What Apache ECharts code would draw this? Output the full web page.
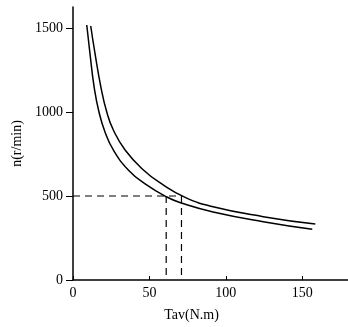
<!DOCTYPE html>
<html><head><meta charset="utf-8">
<script src="https://cdn.jsdelivr.net/npm/echarts@6/dist/echarts.min.js"></script>
<style>html,body{margin:0;padding:0;background:#fff}#c{width:348px;height:327px}</style>
</head><body><div id="c"></div>
<script>
// Inner (lower) curve: [Tav, n]
const innerCurve = [[9.0,1518],[11.1,1349],[13.8,1151],[17.0,1000],[21.0,880],[26.4,774],[36.2,655],[47.2,572],[61.4,494],[72,455],[91.7,405],[124.5,347],[156.6,302]];
// Outer (upper) curve
const outerCurve = [[11.6,1512],[14.4,1349],[18.2,1151],[22.1,1000],[26.4,893],[34.1,774],[46.1,655],[58.1,572],[73.4,492],[91.7,436],[124.5,377],[158.6,333]];
// Dashed guide lines
const guideH = [[0,500],[71,500]];
const guideV1 = [[61,500],[61,0]];
const guideV2 = [[71,500],[71,0]];
const xTicks = [0,50,100,150];
const yTicks = [0,500,1000,1500];

const font = 'Liberation Serif';
const chart = echarts.init(document.getElementById('c'));
const lineStyle = {color:'#000', width:1.5};
const dashStyle = {color:'#000', width:1.2, type:[7,5]};
chart.setOption({
  animation:false,
  grid:{left:73, right:0, top:7, bottom:47},
  xAxis:{type:'value', min:0, max:180, interval:50,
    name:'Tav(N.m)', nameLocation:'middle', nameGap:28,
    nameTextStyle:{color:'#000', fontFamily:font, fontSize:14, padding:[0,38,0,0]},
    axisLine:{lineStyle:{color:'#000', width:1.5}},
    axisTick:{inside:true, length:4, customValues:xTicks, lineStyle:{color:'#000'}},
    axisLabel:{color:'#000', fontFamily:font, fontSize:14, margin:6, customValues:xTicks, formatter:v=>String(v)},
    splitLine:{show:false}},
  yAxis:{type:'value', min:0, max:1625, interval:500,
    name:'n(r/min)', nameLocation:'middle', nameGap:44, nameRotate:90,
    nameTextStyle:{color:'#000', fontFamily:font, fontSize:14},
    axisLine:{show:true, lineStyle:{color:'#000', width:1.5}},
    axisTick:{show:true, length:7, customValues:yTicks, lineStyle:{color:'#000'}},
    axisLabel:{color:'#000', fontFamily:font, fontSize:14, margin:10, customValues:yTicks, formatter:v=>String(v)},
    splitLine:{show:false}},
  series:[
    {type:'line', data:innerCurve, smooth:0.5, showSymbol:false, lineStyle},
    {type:'line', data:outerCurve, smooth:0.5, showSymbol:false, lineStyle},
    {type:'line', data:guideH, showSymbol:false, lineStyle:dashStyle},
    {type:'line', data:guideV1, showSymbol:false, lineStyle:dashStyle},
    {type:'line', data:guideV2, showSymbol:false, lineStyle:dashStyle}
  ]
});
</script></body></html>
